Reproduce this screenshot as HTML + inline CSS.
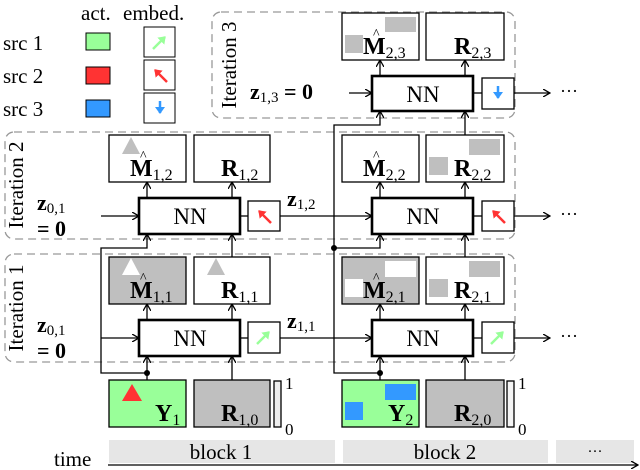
<!DOCTYPE html>
<html><head><style>body{margin:0;background:#fff}svg{display:block}</style></head><body>
<svg width="640" height="470" viewBox="0 0 640 470" xmlns="http://www.w3.org/2000/svg" font-family="Liberation Serif, serif">
<defs>
<marker id="a" markerWidth="8" markerHeight="8" refX="7" refY="4" orient="auto" markerUnits="userSpaceOnUse"><path d="M0,0 L7,4 L0,8" fill="none" stroke="#000" stroke-width="1.3"/></marker>
<marker id="ag" markerWidth="10" markerHeight="10" refX="6" refY="5" orient="auto" markerUnits="userSpaceOnUse"><path d="M0,0 L7,5 L0,10 Z" fill="#9f9"/></marker>
<marker id="ar" markerWidth="10" markerHeight="10" refX="6" refY="5" orient="auto" markerUnits="userSpaceOnUse"><path d="M0,0 L7,5 L0,10 Z" fill="#f33"/></marker>
<marker id="ab" markerWidth="10" markerHeight="10" refX="6" refY="5" orient="auto" markerUnits="userSpaceOnUse"><path d="M0,0 L7,5 L0,10 Z" fill="#3399ff"/></marker>
<g id="eg"><line x1="-7" y1="7" x2="5" y2="-5" stroke="#9f9" stroke-width="2.5" marker-end="url(#ag)"/></g>
<g id="er"><line x1="7" y1="7" x2="-5" y2="-5" stroke="#f33" stroke-width="2.5" marker-end="url(#ar)"/></g>
<g id="eb"><line x1="0" y1="-7" x2="0" y2="5" stroke="#3399ff" stroke-width="2.5" marker-end="url(#ab)"/></g>
</defs>
<!-- legend -->
<g font-size="21">
<text x="81" y="20">act.</text><text x="123" y="20">embed.</text>
<text x="3" y="50">src 1</text><text x="3" y="83">src 2</text><text x="3" y="116">src 3</text>
</g>
<rect x="86" y="33" width="24" height="17" fill="#9f9" stroke="#000"/>
<rect x="86" y="67" width="24" height="17" fill="#f33" stroke="#000"/>
<rect x="86" y="100" width="24" height="17" fill="#3399ff" stroke="#000"/>
<rect x="144" y="27" width="31" height="30" fill="#fff" stroke="#000"/><use href="#eg" x="160" y="42"/>
<rect x="144" y="60" width="31" height="30" fill="#fff" stroke="#000"/><use href="#er" x="160" y="75"/>
<rect x="144" y="93" width="31" height="30" fill="#fff" stroke="#000"/><use href="#eb" x="160" y="108"/>
<!-- iteration frames -->
<g fill="none" stroke="#999" stroke-width="1.3" stroke-dasharray="8,5">
<rect x="212" y="12" width="303" height="106" rx="9"/>
<rect x="5" y="132" width="510" height="107" rx="9"/>
<rect x="5" y="254" width="510" height="108" rx="9"/>
</g>
<g font-size="21">
<text transform="translate(236,65) rotate(-90)" text-anchor="middle">Iteration 3</text>
<text transform="translate(23,185) rotate(-90)" text-anchor="middle">Iteration 2</text>
<text transform="translate(23,308) rotate(-90)" text-anchor="middle">Iteration 1</text>
</g>
<!-- connectors -->
<g stroke="#000" stroke-width="1.3" fill="none">
<line x1="101" y1="338" x2="139" y2="338" marker-end="url(#a)"/>
<line x1="240" y1="338" x2="248" y2="338"/>
<line x1="280" y1="338" x2="372" y2="338" marker-end="url(#a)"/>
<line x1="473" y1="338" x2="482" y2="338"/>
<line x1="514" y1="338" x2="550" y2="338" marker-end="url(#a)"/>
<line x1="147" y1="380" x2="147" y2="356" marker-end="url(#a)"/>
<line x1="232" y1="380" x2="232" y2="356" marker-end="url(#a)"/>
<line x1="380" y1="380" x2="380" y2="356" marker-end="url(#a)"/>
<line x1="465" y1="380" x2="465" y2="356" marker-end="url(#a)"/>
<line x1="147" y1="320" x2="147" y2="304" marker-end="url(#a)"/>
<line x1="232" y1="320" x2="232" y2="304" marker-end="url(#a)"/>
<line x1="380" y1="320" x2="380" y2="304" marker-end="url(#a)"/>
<line x1="465" y1="320" x2="465" y2="304" marker-end="url(#a)"/>
<path d="M147,373 H101 V248 H147 V234" marker-end="url(#a)"/>
<path d="M380,373 H334 V125 H380 V111" marker-end="url(#a)"/>
<path d="M334,248 H380 V234" marker-end="url(#a)"/>
<line x1="232" y1="257" x2="232" y2="234" marker-end="url(#a)"/>
<line x1="465" y1="257" x2="465" y2="234" marker-end="url(#a)"/>
<line x1="101" y1="216" x2="139" y2="216" marker-end="url(#a)"/>
<line x1="240" y1="216" x2="248" y2="216"/>
<line x1="280" y1="216" x2="372" y2="216" marker-end="url(#a)"/>
<line x1="473" y1="216" x2="482" y2="216"/>
<line x1="514" y1="216" x2="550" y2="216" marker-end="url(#a)"/>
<line x1="147" y1="198" x2="147" y2="182" marker-end="url(#a)"/>
<line x1="232" y1="198" x2="232" y2="182" marker-end="url(#a)"/>
<line x1="380" y1="198" x2="380" y2="182" marker-end="url(#a)"/>
<line x1="465" y1="198" x2="465" y2="182" marker-end="url(#a)"/>
<line x1="465" y1="135" x2="465" y2="111" marker-end="url(#a)"/>
<line x1="349" y1="93" x2="372" y2="93" marker-end="url(#a)"/>
<line x1="473" y1="93" x2="482" y2="93"/>
<line x1="514" y1="93" x2="550" y2="93" marker-end="url(#a)"/>
<line x1="380" y1="76" x2="380" y2="60" marker-end="url(#a)"/>
<line x1="465" y1="76" x2="465" y2="60" marker-end="url(#a)"/>
</g>
<circle cx="147" cy="373" r="3"/><circle cx="380" cy="373" r="3"/><circle cx="334" cy="248" r="3"/>
<g font-size="18"><text x="560" y="97">···</text><text x="560" y="220">···</text><text x="560" y="342">···</text></g>
<!-- NN boxes -->
<g fill="#fff" stroke="#000" stroke-width="2.6">
<rect x="139" y="320" width="101" height="36"/><rect x="372" y="320" width="101" height="36"/>
<rect x="139" y="198" width="101" height="36"/><rect x="372" y="198" width="101" height="36"/>
<rect x="372" y="76" width="101" height="35"/>
</g>
<g font-size="23" text-anchor="middle">
<text x="190" y="346">NN</text><text x="423" y="346">NN</text>
<text x="190" y="224">NN</text><text x="423" y="224">NN</text><text x="423" y="102">NN</text>
</g>
<!-- embed boxes -->
<g fill="#fff" stroke="#000" stroke-width="1.3">
<rect x="248" y="322" width="32" height="31"/><rect x="482" y="322" width="32" height="31"/>
<rect x="248" y="201" width="32" height="30"/><rect x="482" y="201" width="32" height="30"/>
<rect x="482" y="78" width="32" height="31"/>
</g>
<use href="#eg" x="264" y="337"/><use href="#eg" x="498" y="337"/>
<use href="#er" x="264" y="216"/><use href="#er" x="498" y="216"/>
<use href="#eb" x="498" y="93"/>
<!-- output boxes -->
<g stroke="#000" stroke-width="1.3">
<rect x="109" y="257" width="77" height="47" fill="#bfbfbf"/>
<rect x="194" y="257" width="76" height="47" fill="#fff"/>
<rect x="342" y="257" width="77" height="47" fill="#bfbfbf"/>
<rect x="426" y="257" width="78" height="47" fill="#fff"/>
<rect x="109" y="135" width="77" height="47" fill="#fff"/>
<rect x="194" y="135" width="76" height="47" fill="#fff"/>
<rect x="342" y="135" width="77" height="47" fill="#fff"/>
<rect x="426" y="135" width="78" height="47" fill="#fff"/>
<rect x="342" y="13" width="77" height="47" fill="#fff"/>
<rect x="426" y="13" width="78" height="47" fill="#fff"/>
<rect x="109" y="380" width="77" height="47" fill="#9f9"/>
<rect x="194" y="380" width="76" height="47" fill="#bfbfbf"/>
<rect x="342" y="380" width="77" height="47" fill="#9f9"/>
<rect x="426" y="380" width="78" height="47" fill="#bfbfbf"/>
<rect x="274" y="381" width="7" height="46" fill="#eee"/>
<rect x="507" y="381" width="7" height="46" fill="#f4f4f4"/>
</g>
<!-- patches -->
<polygon points="131,258 122,275 140,275" fill="#fff"/>
<polygon points="216,258 207,275 225,275" fill="#bfbfbf"/>
<polygon points="131,137 122,154 140,154" fill="#bfbfbf"/>
<polygon points="132,384 122,401 142,401" fill="#f33"/>
<rect x="385" y="261" width="31" height="16" fill="#fff"/><rect x="345" y="279" width="18" height="18" fill="#fff"/>
<rect x="469" y="261" width="31" height="16" fill="#bfbfbf"/><rect x="429" y="279" width="19" height="18" fill="#bfbfbf"/>
<rect x="469" y="139" width="31" height="16" fill="#bfbfbf"/><rect x="429" y="157" width="19" height="18" fill="#bfbfbf"/>
<rect x="385" y="17" width="31" height="15" fill="#bfbfbf"/><rect x="345" y="35" width="18" height="18" fill="#bfbfbf"/>
<rect x="385" y="384" width="31" height="16" fill="#3399ff"/><rect x="345" y="402" width="18" height="18" fill="#3399ff"/>
<!-- box labels -->
<g font-size="24" font-weight="bold">
<text x="130" y="298">M<tspan font-size="16" font-weight="normal" dy="4">1,1</tspan></text>
<text x="221" y="298">R<tspan font-size="16" font-weight="normal" dy="4">1,1</tspan></text>
<text x="363" y="298">M<tspan font-size="16" font-weight="normal" dy="4">2,1</tspan></text>
<text x="454" y="298">R<tspan font-size="16" font-weight="normal" dy="4">2,1</tspan></text>
<text x="130" y="176">M<tspan font-size="16" font-weight="normal" dy="4">1,2</tspan></text>
<text x="221" y="176">R<tspan font-size="16" font-weight="normal" dy="4">1,2</tspan></text>
<text x="363" y="176">M<tspan font-size="16" font-weight="normal" dy="4">2,2</tspan></text>
<text x="454" y="176">R<tspan font-size="16" font-weight="normal" dy="4">2,2</tspan></text>
<text x="363" y="54">M<tspan font-size="16" font-weight="normal" dy="4">2,3</tspan></text>
<text x="454" y="54">R<tspan font-size="16" font-weight="normal" dy="4">2,3</tspan></text>
<text x="155" y="421">Y<tspan font-size="16" font-weight="normal" dy="4">1</tspan></text>
<text x="221" y="421">R<tspan font-size="16" font-weight="normal" dy="4">1,0</tspan></text>
<text x="388" y="421">Y<tspan font-size="16" font-weight="normal" dy="4">2</tspan></text>
<text x="454" y="421">R<tspan font-size="16" font-weight="normal" dy="4">2,0</tspan></text>
</g>
<g font-size="14"><text x="140" y="282">^</text><text x="140" y="160">^</text><text x="373" y="282">^</text><text x="373" y="160">^</text><text x="373" y="38">^</text></g>
<g font-size="17"><text x="285" y="389">1</text><text x="285" y="435">0</text><text x="518" y="389">1</text><text x="518" y="435">0</text></g>
<!-- z labels -->
<g font-size="22" font-weight="bold">
<text x="37" y="332">z<tspan font-size="15" font-weight="normal" dy="3">0,1</tspan></text>
<text x="37" y="358">= 0</text>
<text x="37" y="210">z<tspan font-size="15" font-weight="normal" dy="3">0,1</tspan></text>
<text x="37" y="236">= 0</text>
<text x="287" y="328">z<tspan font-size="15" font-weight="normal" dy="3">1,1</tspan></text>
<text x="287" y="206">z<tspan font-size="15" font-weight="normal" dy="3">1,2</tspan></text>
<text x="250" y="99">z<tspan font-size="15" font-weight="normal" dy="3">1,3</tspan><tspan dy="-3"> = 0</tspan></text>
</g>
<!-- timeline -->
<rect x="109" y="440" width="226" height="23" fill="#e6e6e6"/>
<rect x="343" y="440" width="205" height="23" fill="#e6e6e6"/>
<rect x="556" y="440" width="78" height="23" fill="#e6e6e6"/>
<g font-size="21" text-anchor="middle"><text x="221" y="459">block 1</text><text x="445" y="459">block 2</text><text x="595" y="456" font-size="15">···</text></g>
<text x="54" y="466" font-size="21">time</text>
<line x1="108" y1="465" x2="638" y2="465" stroke="#000" stroke-width="1.3" marker-end="url(#a)"/>
</svg>
</body></html>
